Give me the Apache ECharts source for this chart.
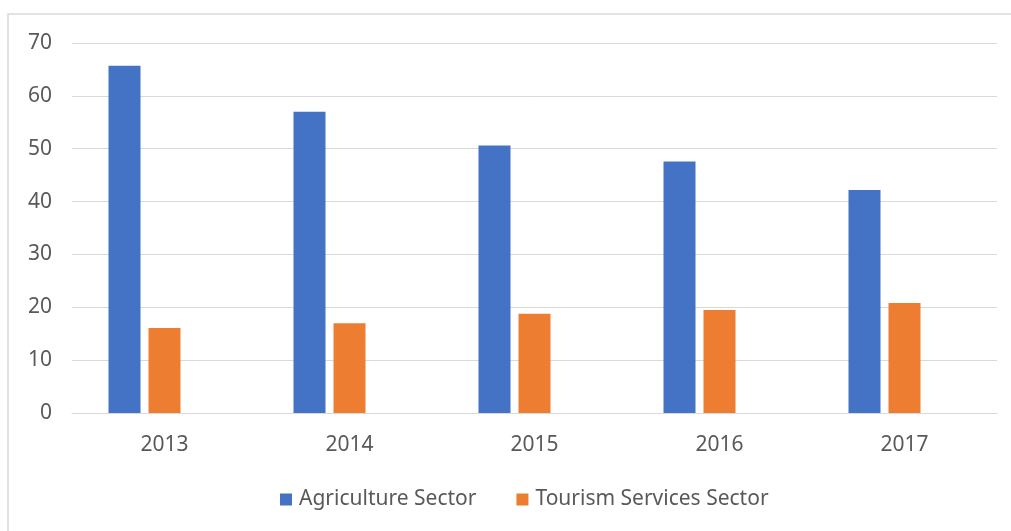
<!DOCTYPE html>
<html>
<head>
<meta charset="utf-8">
<script src="https://cdn.jsdelivr.net/npm/echarts@6/dist/echarts.min.js"></script>
<style>
  html, body { margin: 0; padding: 0; background: #fff; }
  #chart { width: 1011px; height: 531px; }
</style>
</head>
<body>
<div id="chart"></div>
<script>
var years = ['2013', '2014', '2015', '2016', '2017'];
var agriculture = [65.7, 57.0, 50.6, 47.6, 42.2];
var tourism = [16.1, 17.0, 18.8, 19.5, 20.8];
var yTicks = [0, 10, 20, 30, 40, 50, 60, 70];

var font = 'Noto Sans';
var textColor = '#595959';

var option = {
    backgroundColor: '#fff',
    animation: false,
    textStyle: {fontFamily: font},
    graphic: [{
        type: 'rect',
        shape: {x: 8, y: 14, width: 1010, height: 530},
        style: {fill: 'none', stroke: '#d9d9d9', lineWidth: 1.5},
        silent: true
    }],
    legend: {
        data: ['Agriculture Sector', 'Tourism Services Sector'],
        bottom: 16,
        left: 275,
        itemWidth: 12,
        itemHeight: 12,
        itemGap: 40,
        icon: 'rect',
        textStyle: {color: textColor, fontSize: 21, fontFamily: font, padding: [0, 0, 0, 2]}
    },
    grid: {
        left: 72,
        right: 14,
        top: 43,
        bottom: 118
    },
    xAxis: {
        type: 'category',
        data: years,
        axisLine: {lineStyle: {color: '#d9d9d9', width: 1}},
        axisTick: {show: false},
        axisLabel: {color: textColor, fontSize: 21, margin: 22}
    },
    yAxis: {
        type: 'value',
        min: yTicks[0],
        max: yTicks[yTicks.length - 1],
        interval: 10,
        axisLine: {show: false},
        axisTick: {show: false},
        axisLabel: {color: textColor, fontSize: 21, margin: 20},
        splitLine: {lineStyle: {color: '#d9d9d9', width: 1}}
    },
    series: [
        {
            name: 'Agriculture Sector',
            type: 'bar',
            data: agriculture,
            barWidth: 32,
            barGap: '25%',
            itemStyle: {color: '#4472c4'}
        },
        {
            name: 'Tourism Services Sector',
            type: 'bar',
            data: tourism,
            barWidth: 32,
            barGap: '25%',
            itemStyle: {color: '#ed7d31'}
        },
        {
            // empty third series, keeps the two bars left of centre like the source
            name: '',
            type: 'bar',
            data: [],
            barWidth: 32,
            barGap: '25%'
        }
    ]
};

var chart = echarts.init(document.getElementById('chart'));
chart.setOption(option);
</script>
</body>
</html>
